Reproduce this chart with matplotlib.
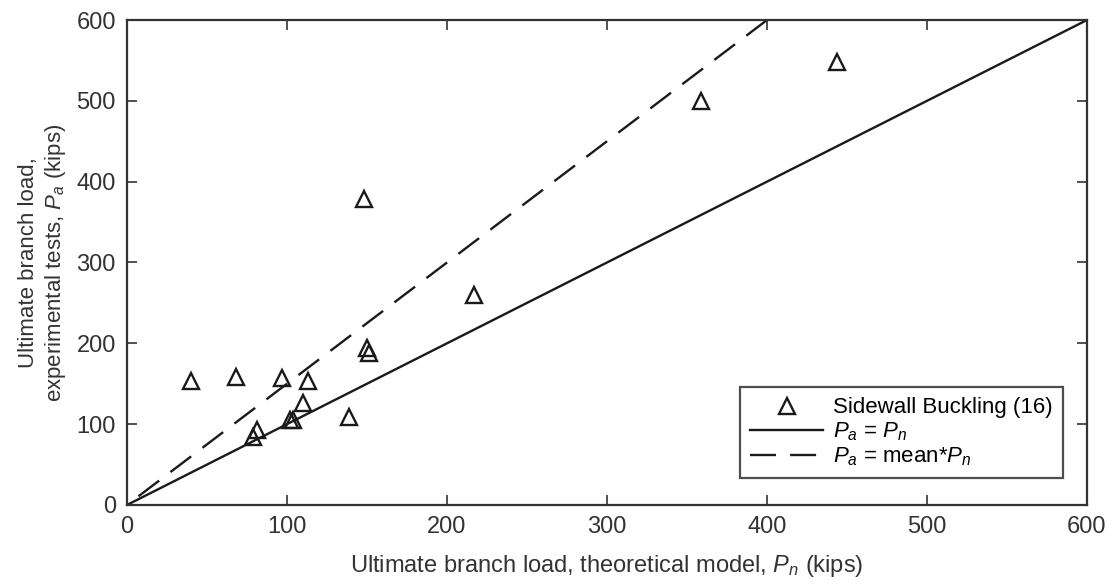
import numpy as np
import matplotlib.pyplot as plt

# Sidewall buckling tests: theoretical vs experimental ultimate branch load (kips)
p_n = [40, 68, 97, 113, 110, 104, 102, 79, 81, 139, 150, 151, 148, 217, 359, 444]
p_a = [153, 158, 157, 153, 126, 105, 105, 84, 93, 109, 194, 188, 378, 260, 500, 548]
mean_ratio = 1.5

plt.rcParams['font.family'] = ['Liberation Sans', 'DejaVu Sans']
plt.rcParams['mathtext.fontset'] = 'custom'
plt.rcParams['mathtext.it'] = 'Liberation Sans:italic'
plt.rcParams['mathtext.rm'] = 'Liberation Sans'

fig = plt.figure(figsize=(11.19, 5.85), dpi=100)
ax = fig.add_axes([0.1135, 0.1368, 0.8579, 0.829])

ax.plot(p_n, p_a, linestyle='none', marker='^', markersize=12,
        markerfacecolor='none', markeredgecolor='#1a1a1a', markeredgewidth=1.7,
        label='Sidewall Buckling (16)')

x = np.array([0, 600])
ax.plot(x, x, color='#1a1a1a', lw=1.7, label='$P_a$ = $P_n$')
# drawn from the top end so the dash pattern reaches the frame
xd = np.array([600 / mean_ratio, 0])
ax.plot(xd, mean_ratio * xd, color='#1a1a1a', lw=1.7, dashes=(11, 6),
        label='$P_a$ = mean*$P_n$')

ax.set_xlim(0, 600)
ax.set_ylim(0, 600)
ax.set_xticks(range(0, 601, 100))
ax.set_yticks(range(0, 601, 100))
ax.tick_params(direction='in', top=True, right=True, length=7, width=1.2,
               labelsize=17, colors='#333333', pad=8)
for s in ax.spines.values():
    s.set_linewidth(1.6)
    s.set_color('#333333')

ax.set_xlabel('Ultimate branch load, theoretical model, $P_n$ (kips)',
              fontsize=17, color='#333333', labelpad=11)
ax.set_ylabel('Ultimate branch load,\nexperimental tests, $P_a$ (kips)',
              fontsize=16, color='#333333', labelpad=6)

leg = ax.legend(loc='lower right', bbox_to_anchor=(0.975, 0.0557), fontsize=16,
                frameon=True, fancybox=False, edgecolor='#222222',
                handlelength=3.3, borderpad=0.45, labelspacing=0.1,
                handletextpad=0.45, borderaxespad=0)
leg.get_frame().set_linewidth(1.6)

fig.savefig('out.png', dpi=100)
